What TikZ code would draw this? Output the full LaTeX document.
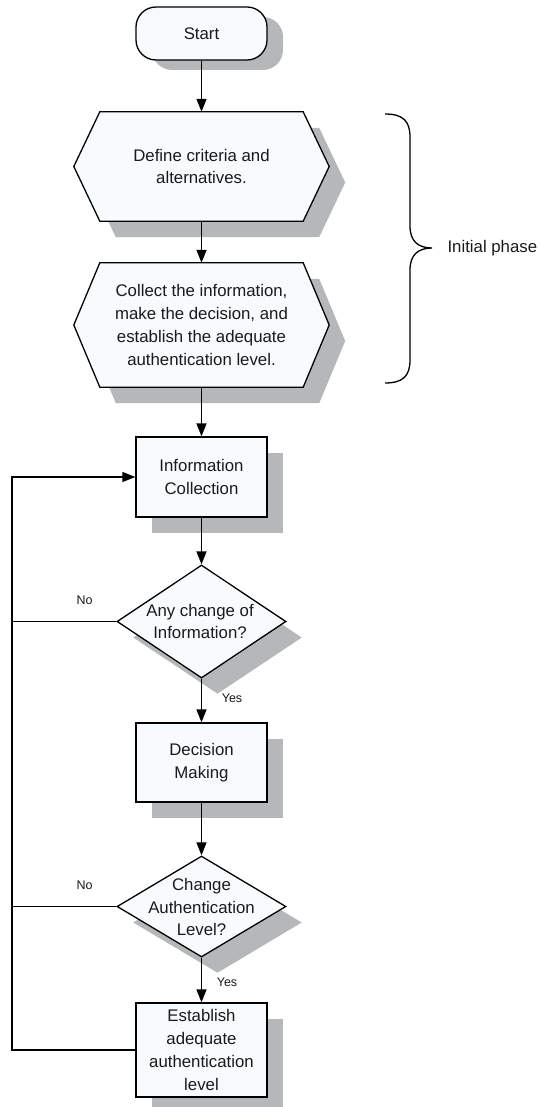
\documentclass[tikz,border=0pt]{standalone}
\usepackage{fontspec}
\setmainfont{Liberation Sans}
\usetikzlibrary{arrows.meta,shapes.geometric,shadows,calc}
\definecolor{boxfill}{HTML}{F7FBFE}
\definecolor{shade}{HTML}{B5B7B9}
\definecolor{ink}{HTML}{1A1A1A}

\begin{document}
\begin{tikzpicture}[x=1pt,y=-1pt,
  every node/.style={font=\fontsize{16.8}{22.7}\selectfont, text=ink, align=center},
  shadowed/.style={drop shadow={shadow xshift=16pt, shadow yshift=-16pt, fill=shade, opacity=1}},
  outline/.style={draw=black, line width=1.3pt, fill=boxfill},
  procbox/.style={outline, shadowed, rectangle, minimum width=131pt, inner sep=0pt},
  decision/.style={outline, shadowed, diamond, minimum width=169pt, inner sep=0pt},
  hexframe/.style={rectangle, minimum width=203pt, inner sep=0pt},
  link/.style={draw=black, line width=1.3pt},
  arrow/.style={link, -{Triangle[length=13pt,width=10pt]}},
  small/.style={font=\fontsize{12.5}{15}\selectfont},
]
\useasboundingbox (0,0) rectangle (540,1107);

% start terminal
\node[outline, rounded corners=20pt, minimum width=131pt, minimum height=53pt, inner sep=0pt,
      drop shadow={shadow xshift=16pt, shadow yshift=-10pt, fill=shade, opacity=1}]
      (start) at (201.5,33.5) {Start};

% initial phase: two hexagon steps
\node[hexframe, minimum height=109pt] (define) at (201.5,166.5) {};
\draw[outline, shadowed]
  (define.north west) -- (define.north east) -- ($(define.east)+(26,0)$)
  -- (define.south east) -- (define.south west) -- ($(define.west)+(-26,0)$) -- cycle;
\node at (define.center) {Define criteria and\\alternatives.};

\node[hexframe, minimum height=124pt] (collect) at (201.5,325) {};
\draw[outline, shadowed]
  (collect.north west) -- (collect.north east) -- ($(collect.east)+(26,0)$)
  -- (collect.south east) -- (collect.south west) -- ($(collect.west)+(-26,0)$) -- cycle;
\node at (collect.center) {Collect the information,\\make the decision, and\\establish the adequate\\authentication level.};

% main loop
\node[procbox, minimum height=80pt] (info) at (201.5,477) {Information\\Collection};
\node[decision, minimum height=113pt] (dia1) at (201.5,621.5) {};
\node (dia1txt) at (200,621.5) {Any change of\\Information?};
\node[procbox, minimum height=79pt] (decide) at (201.5,762.5) {Decision\\Making};
\node[decision, minimum height=101pt] (dia2) at (201.5,906.5) {};
\node (dia2txt) at (201.5,907) {Change\\Authentication\\Level?};
\node[procbox, minimum height=94pt] (est) at (201.5,1050) {Establish\\adequate\\authentication\\level};

% connectors
\draw[arrow] (start) -- (define);
\draw[arrow] (define) -- (collect);
\draw[arrow] (collect) -- (info);
\draw[arrow] (info) -- (dia1);
\draw[arrow] (dia1) -- (decide);
\draw[arrow] (decide) -- (dia2);
\draw[arrow] (dia2) -- (est);

\coordinate (loopcorner) at (12,477);
\draw[arrow] (est.west) -| (loopcorner) -- (info.west);
\draw[link] (dia1.west) -- (dia1.west -| loopcorner);
\draw[link] (dia2.west) -- (dia2.west -| loopcorner);

\node[small] (no1) at (84.5,600) {No};
\node[small] (yes1) at (232,698) {Yes};
\node[small] (no2) at (84.5,885.5) {No};
\node[small] (yes2) at (227,982) {Yes};

% brace around the initial phase
\coordinate (bracetip) at (432,248);
\draw[link]
  (385,114) .. controls (403,114) and (410,121) .. (410,137)
  -- (410,226) .. controls (410,241) and (418,248) .. (bracetip)
  .. controls (418,248) and (410,255) .. (410,270)
  -- (410,360) .. controls (410,376) and (403,383) .. (385,383);
\node[anchor=west] (phase) at (444,248) {Initial phase};
\end{tikzpicture}
\end{document}
